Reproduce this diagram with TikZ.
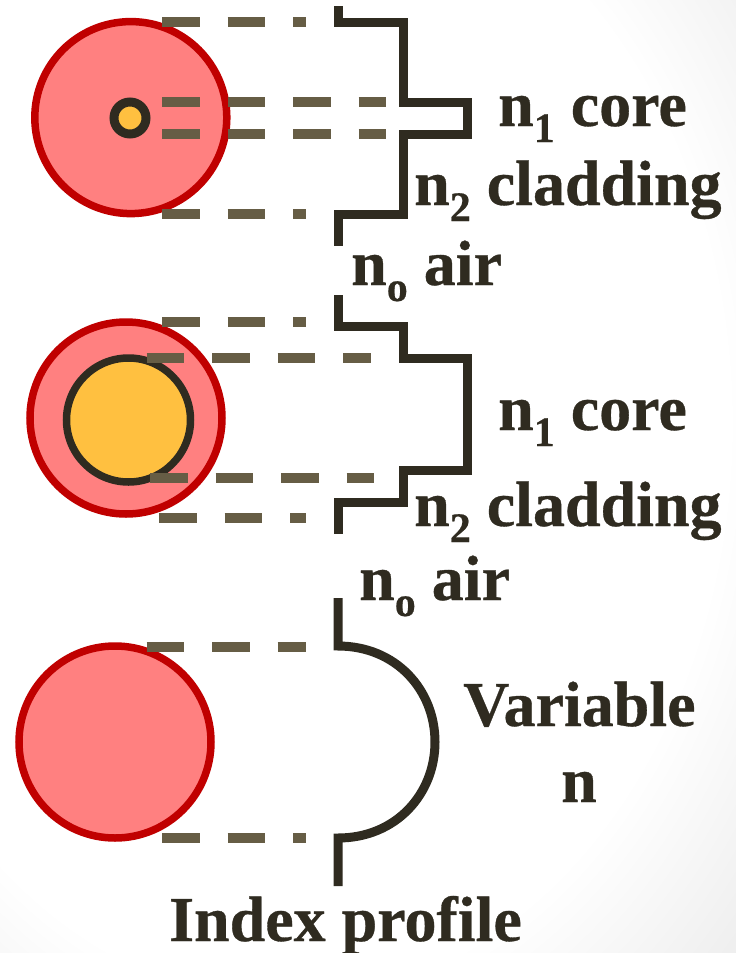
\documentclass[tikz,border=0pt]{standalone}
\usepackage{fontspec}
\setmainfont[BoldFeatures={FakeBold=0.5}]{Liberation Serif}
\definecolor{ringred}{HTML}{C00000}
\definecolor{ringfill}{HTML}{FF8080}
\definecolor{corefill}{HTML}{FFC040}
\definecolor{inkdark}{HTML}{2F2B20}
\definecolor{dashbrown}{HTML}{665D45}
\pgfdeclareradialshading{pageshade}{\pgfpoint{-8bp}{4bp}}{color(0bp)=(white);color(30bp)=(white);color(46bp)=(black!10);color(100bp)=(black!10)}
\newcommand{\subidx}[1]{\raisebox{-16pt}{\fontsize{42}{42}\selectfont #1}}
\tikzset{
  cladring/.style={draw=ringred,fill=ringfill,line width=7.5pt},
  corering/.style={draw=inkdark,fill=corefill},
  profile/.style={draw=inkdark,line width=9pt},
  guide/.style={draw=dashbrown,line width=9.3pt,dash pattern=on 37.5pt off 28pt},
  label/.style={inner sep=0pt,anchor=base west,text=inkdark,font=\fontsize{64}{64}\selectfont\bfseries}
}
\begin{document}
\begin{tikzpicture}[x=1pt,y=-1pt]
  \useasboundingbox (0,0) rectangle (736,953);
  \shade[shading=pageshade] (0,0) rectangle (736,953);
  % step index, thin core
  \draw[cladring] (130.8,117.6) circle (96pt);
  \draw[corering,line width=9pt] (130,118) circle (16pt);
  \draw[guide] (162,22) -- (306,22);
  \draw[guide] (162,102) -- (386,102);
  \draw[guide] (162,134) -- (386,134);
  \draw[guide] (162,214) -- (306,214);
  \draw[profile] (338,6) -- (338,22) -- (403,22) -- (403,102) -- (467,102)
    -- (467,134) -- (403,134) -- (403,214) -- (338,214) -- (338,246);
  \node[label] (coreA) at (498,126) {n\subidx{1} core};
  \node[label] (cladA) at (414,205) {n\subidx{2} cladding};
  \node[label] (airA) at (351,285) {n\subidx{o} air};
  % step index, wide core
  \draw[cladring] (126,418) circle (96pt);
  \draw[corering,line width=7.5pt] (128.5,420) circle (62pt);
  \draw[guide] (162,322) -- (306,322);
  \draw[guide] (146.5,358) -- (371,358);
  \draw[guide] (150,478) -- (374,478);
  \draw[guide] (159,518) -- (306,518);
  \draw[profile] (338,295) -- (338,326) -- (403,326) -- (403,358) -- (467,358)
    -- (467,470) -- (403,470) -- (403,502) -- (338,502) -- (338,534);
  \node[label] (coreB) at (498,430) {n\subidx{1} core};
  \node[label] (cladB) at (414,526) {n\subidx{2} cladding};
  \node[label] (airB) at (359,600) {n\subidx{o} air};
  % graded index
  \draw[cladring] (115,742) circle (96pt);
  \draw[guide] (146.5,647) -- (306,647);
  \draw[guide] (162,838) -- (306,838);
  \draw[profile] (338,598) -- (338,646) .. controls (396,646) and (435,690) .. (435,742)
    .. controls (435,794) and (396,838) .. (338,838) -- (338,886);
  \node[label] (varA) at (463,726) {Variable};
  \node[label,anchor=base] (varB) at (579,802) {n};
  \node[label] (title) at (169,941) {Index profile};
\end{tikzpicture}
\end{document}
